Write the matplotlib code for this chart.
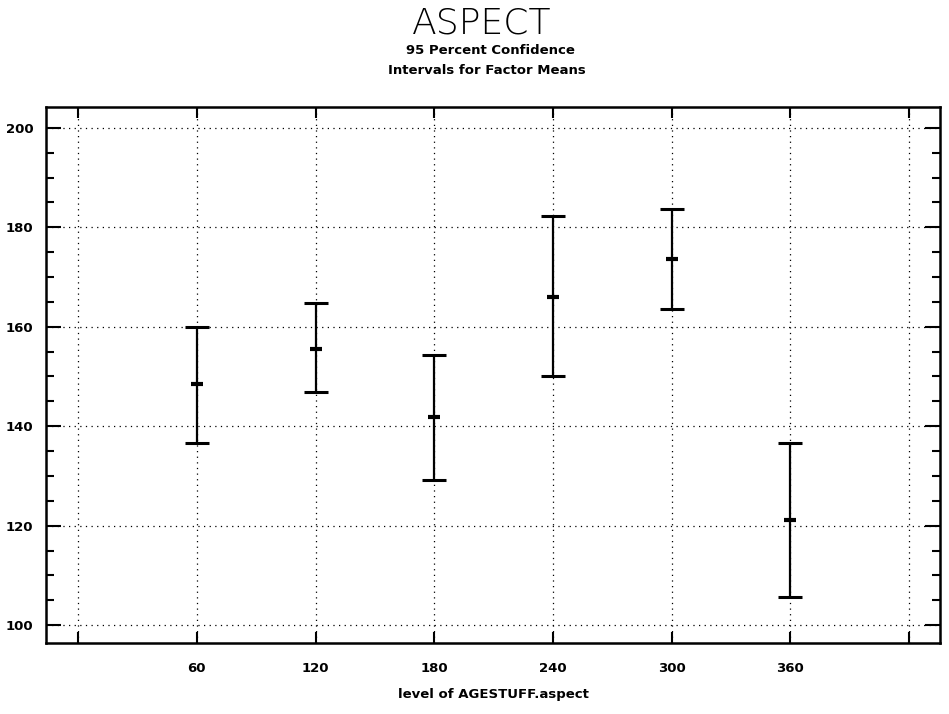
"""
95 percent confidence intervals for factor means (ASPECT).
"""
import matplotlib
matplotlib.use("Agg")
import matplotlib.pyplot as plt
from matplotlib.ticker import MultipleLocator, FixedLocator

plt.rcParams["font.family"] = ["DejaVu Sans"]

# ── Data ───────────────────────────────────────────────────────────────────────
levels = [60, 120, 180, 240, 300, 360]
lower  = [136.6, 146.8, 129.1, 150.0, 163.6, 105.7]
means  = [148.4, 155.6, 141.9, 166.0, 173.6, 121.1]
upper  = [159.9, 164.8, 154.3, 182.2, 183.7, 136.7]

x_ticks  = [0, 60, 120, 180, 240, 300, 360, 420]
x_labels = ["", "60", "120", "180", "240", "300", "360", ""]
y_ticks  = [100, 120, 140, 160, 180, 200]

# ── Plot ───────────────────────────────────────────────────────────────────────
fig = plt.figure(figsize=(9.49, 7.14), dpi=100)
ax = fig.add_axes([46 / 949, 1 - 643 / 714, 894 / 949, 536 / 714])

yerr = [[m - lo for m, lo in zip(means, lower)],
        [hi - m for m, hi in zip(means, upper)]]
ax.errorbar(levels, means, yerr=yerr, fmt="none", ecolor="black",
            elinewidth=1.6, capsize=8.6, capthick=2.2, zorder=5)
ax.plot(levels, means, ls="none", marker="_", ms=8, mew=3,
        color="black", zorder=6)

ax.set_xlim(-16.2, 435.6)
ax.set_ylim(96.4, 204.2)

ax.xaxis.set_major_locator(FixedLocator(x_ticks))
ax.set_xticklabels(x_labels)
ax.yaxis.set_major_locator(FixedLocator(y_ticks))
ax.yaxis.set_minor_locator(MultipleLocator(5))

ax.tick_params(axis="y", which="major", direction="in", length=11, width=1.5,
               right=True, pad=9, labelsize=9.5)
ax.tick_params(axis="y", which="minor", direction="in", length=6, width=1.5,
               right=True)
ax.tick_params(axis="x", which="major", direction="in", length=8, width=1.5,
               top=True, pad=14, labelsize=9.5)
for lab in ax.get_xticklabels() + ax.get_yticklabels():
    lab.set_fontweight("bold")

ax.grid(True, which="major", color="black", linestyle=(0, (1, 3.5)), lw=0.9)
for spine in ax.spines.values():
    spine.set_linewidth(1.8)

ax.set_xlabel("level of AGESTUFF.aspect", fontsize=9.5, fontweight="bold",
              labelpad=9)

fig.text(482 / 949, 1 - 24 / 714, "ASPECT", ha="center", va="center",
         fontsize=26, fontweight="light")
fig.text(490 / 949, 1 - 50 / 714, "95 Percent Confidence", ha="center",
         va="center", fontsize=9.5, fontweight="bold")
fig.text(487 / 949, 1 - 70 / 714, "Intervals for Factor Means", ha="center",
         va="center", fontsize=9.5, fontweight="bold")

fig.savefig("out.png", dpi=100)
